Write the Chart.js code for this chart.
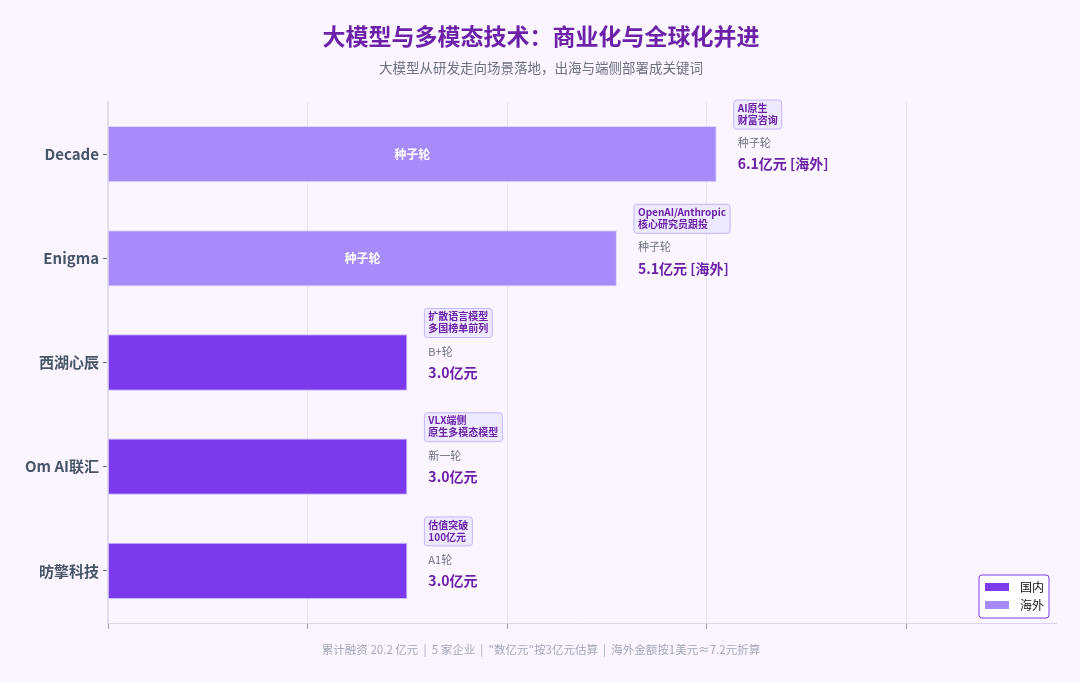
<!DOCTYPE html>
<html>
<head>
<meta charset="utf-8">
<script src="https://cdn.jsdelivr.net/npm/chart.js@4.4.1/dist/chart.umd.min.js"></script>
<style>
  html, body { margin: 0; padding: 0; background: #faf5ff; }
  #wrap { width: 1080px; height: 682px; position: relative; }
</style>
</head>
<body>
<div id="wrap"><canvas id="fundChart"></canvas></div>
<script>
// chart data
var companies = ['Decade', 'Enigma', '西湖心辰', 'Om AI联汇', '昉擎科技'];
var amounts = [6.1, 5.1, 3.0, 3.0, 3.0];
var regions = ['海外', '海外', '国内', '国内', '国内'];
var rounds = ['种子轮', '种子轮', 'B+轮', '新一轮', 'A1轮'];
var tagLine1 = ['AI原生', 'OpenAI/Anthropic', '扩散语言模型', 'VLX端侧', '估值突破'];
var tagLine2 = ['财富咨询', '核心研究员跟投', '多国榜单前列', '原生多模态模型', '100亿元'];
var legendNames = ['国内', '海外'];
var titleText = '大模型与多模态技术：商业化与全球化并进';
var subtitleText = '大模型从研发走向场景落地，出海与端侧部署成关键词';
var footerText = '累计融资 20.2 亿元  |  5 家企业  |  "数亿元"按3亿元估算  |  海外金额按1美元≈7.2元折算';

var FONT = '"Noto Sans CJK SC", "Noto Sans", sans-serif';
var colorDomestic = '#7c3aed';
var colorOverseas = '#a78bfa';

// split the amounts per region so each gets its own colour / legend entry
var domesticData = amounts.map(function(v, i){ return regions[i] === '国内' ? v : null; });
var overseasData = amounts.map(function(v, i){ return regions[i] === '海外' ? v : null; });

function roundRect(ctx, x, y, w, h, r){
	ctx.beginPath();
	ctx.moveTo(x + r, y);
	ctx.lineTo(x + w - r, y);
	ctx.quadraticCurveTo(x + w, y, x + w, y + r);
	ctx.lineTo(x + w, y + h - r);
	ctx.quadraticCurveTo(x + w, y + h, x + w - r, y + h);
	ctx.lineTo(x + r, y + h);
	ctx.quadraticCurveTo(x, y + h, x, y + h - r);
	ctx.lineTo(x, y + r);
	ctx.quadraticCurveTo(x, y, x + r, y);
	ctx.closePath();
}

//labels next to and inside the bars, titles, footer and legend box
var barNotes = {
	id: 'barNotes',
	afterDatasetsDraw: function(chart){
		var ctx = chart.ctx;
		var xs = chart.scales.x;
		var ys = chart.scales.y;
		ctx.save();
		for (var i = 0; i < companies.length; i++){
			var end = xs.getPixelForValue(amounts[i]);
			var cy = ys.getPixelForValue(i);
			var tx = end + 21;

			// round name inside overseas bars
			if (regions[i] === '海外'){
				var mid = (xs.getPixelForValue(0) + end) / 2;
				ctx.font = 'bold 12px ' + FONT;
				ctx.fillStyle = '#ffffff';
				ctx.textAlign = 'center';
				ctx.textBaseline = 'middle';
				ctx.fillText(rounds[i], mid, cy);
			}

			// tag box
			ctx.font = 'bold 10px ' + FONT;
			var w = Math.max(ctx.measureText(tagLine1[i]).width, ctx.measureText(tagLine2[i]).width) + 8;
			roundRect(ctx, end + 17, cy - 54, w, 29, 3);
			ctx.fillStyle = '#ede9fe';
			ctx.fill();
			ctx.strokeStyle = '#c4b5fd';
			ctx.lineWidth = 1;
			ctx.stroke();
			ctx.fillStyle = '#6b21a8';
			ctx.textAlign = 'left';
			ctx.textBaseline = 'middle';
			ctx.fillText(tagLine1[i], end + 21, cy - 46);
			ctx.fillText(tagLine2[i], end + 21, cy - 34);

			// round
			ctx.font = '11px ' + FONT;
			ctx.fillStyle = '#6b7280';
			ctx.fillText(rounds[i], tx, cy - 11);

			// amount
			var txt = amounts[i].toFixed(1) + '亿元';
			if (regions[i] === '海外') txt += ' [海外]';
			ctx.font = 'bold 14px ' + FONT;
			ctx.fillStyle = '#6b21a8';
			ctx.fillText(txt, tx, cy + 10);
		}
		ctx.restore();
	},
	afterDraw: function(chart){
		var ctx = chart.ctx;
		var area = chart.chartArea;
		var cx = chart.width / 2 + 1;
		ctx.save();
		ctx.textAlign = 'center';
		ctx.textBaseline = 'middle';

		// title + subtitle
		ctx.font = 'bold 23px ' + FONT;
		ctx.fillStyle = '#6b21a8';
		ctx.fillText(titleText, cx, 36);
		ctx.font = '13.5px ' + FONT;
		ctx.fillStyle = '#6b7280';
		ctx.fillText(subtitleText, cx, 68);

		// footer
		ctx.font = '11.5px ' + FONT;
		ctx.fillStyle = '#a3a9b8';
		ctx.fillText(footerText, cx, 650);

		// legend in the lower right of the plot
		var bx = area.right - 77, by = area.bottom - 48, bw = 70, bh = 43;
		roundRect(ctx, bx, by, bw, bh, 3);
		ctx.fillStyle = '#ffffff';
		ctx.fill();
		ctx.strokeStyle = '#7c3aed';
		ctx.lineWidth = 1;
		ctx.stroke();
		var ds = chart.data.datasets;
		for (var k = 0; k < ds.length; k++){
			var ly = by + 12 + k * 18;
			ctx.fillStyle = ds[k].backgroundColor;
			ctx.fillRect(bx + 6, ly - 4, 24, 8);
			ctx.fillStyle = '#111111';
			ctx.font = '12px ' + FONT;
			ctx.textAlign = 'left';
			ctx.fillText(ds[k].label, bx + 41, ly);
		}
		ctx.restore();
	}
};

var ctx = document.getElementById('fundChart');
var fundChart = new Chart(ctx, {
	type: 'bar',
	data: {
		labels: companies,
		datasets: [{
			label: legendNames[0],
			data: domesticData,
			backgroundColor: colorDomestic,
			borderColor: 'rgba(196,181,253,0.9)',
			borderWidth: 1,
			borderSkipped: 'start',
			grouped: false,
			barPercentage: 0.9,
			categoryPercentage: 0.6
		}, {
			label: legendNames[1],
			data: overseasData,
			backgroundColor: colorOverseas,
			borderColor: 'rgba(221,214,254,0.9)',
			borderWidth: 1,
			borderSkipped: 'start',
			grouped: false,
			barPercentage: 0.9,
			categoryPercentage: 0.6
		}]
	},
	options: {
		indexAxis: 'y',
		responsive: true,
		maintainAspectRatio: false,
		animation: false,
		layout: { padding: { left: 0, right: 24, top: 102, bottom: 53 } },
		plugins: {
			legend: { display: false },
			tooltip: { enabled: false },
			title: { display: false },
			subtitle: { display: false }
		},
		scales: {
			x: {
				min: 0,
				max: 9.5,
				ticks: { display: false, stepSize: 2 },
				afterBuildTicks: function(scale){
					scale.ticks = scale.ticks.filter(function(t){ return t.value % 2 === 0; });
				},
				grid: { color: '#ebe4f6', tickColor: '#9ca3af', tickLength: 6 },
				border: { color: '#ddd6ea', width: 1 }
			},
			y: {
				afterFit: function(scale){ scale.width = 108; },
				ticks: {
					color: '#475569',
					padding: 4,
					font: { family: FONT, size: 15, weight: 'bold' }
				},
				grid: { offset: false, drawOnChartArea: false, tickColor: '#64748b', tickLength: 5 },
				border: { color: '#e2dcef', width: 2 }
			}
		}
	},
	plugins: [barNotes]
});
</script>
</body>
</html>
